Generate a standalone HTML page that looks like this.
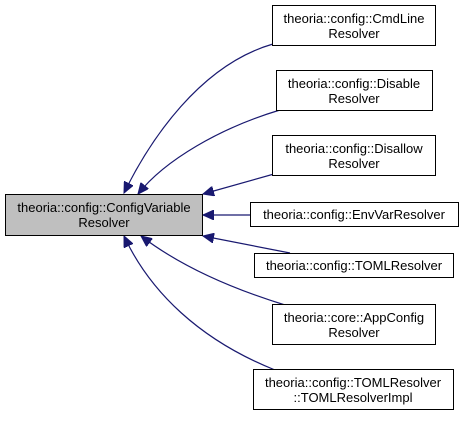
<!DOCTYPE html>
<html><head><style>
body{margin:0;background:#fff;}
svg text{font-family:"Liberation Sans",sans-serif;font-size:13px;fill:#000;}
</style></head><body>
<svg width="463" height="416" viewBox="0 0 463 416" xmlns="http://www.w3.org/2000/svg">
<defs><marker id="a" markerWidth="12" markerHeight="10" refX="11" refY="5" orient="auto" markerUnits="userSpaceOnUse"><path d="M0,0 L11,5 L0,10 Z" fill="#191970" stroke="#191970"/></marker></defs>
<g fill="none" stroke="#191970" stroke-width="1.2">
<path d="M273,44 C200,65 150,140 124,193" marker-end="url(#a)"/>
<path d="M280,110 C220,128 165,160 138,194" marker-end="url(#a)"/>
<path d="M274,174 L203,194" marker-end="url(#a)"/>
<path d="M250,215 L203,215" marker-end="url(#a)"/>
<path d="M290,253 L203,236" marker-end="url(#a)"/>
<path d="M285,305 C220,285 175,262 141,236" marker-end="url(#a)"/>
<path d="M275,370 C200,340 150,292 124,236" marker-end="url(#a)"/>
</g>
<g stroke="#000" stroke-width="1">
<rect x="5.5" y="194.5" width="197" height="41" fill="#bfbfbf"/>
<rect x="272.5" y="5.5" width="163" height="40" fill="#fff"/>
<rect x="276.5" y="70.5" width="156" height="40" fill="#fff"/>
<rect x="272.5" y="135.5" width="163" height="40" fill="#fff"/>
<rect x="250.5" y="202.5" width="208" height="24" fill="#fff"/>
<rect x="254.5" y="253.5" width="199" height="24" fill="#fff"/>
<rect x="272.5" y="304.5" width="163" height="40" fill="#fff"/>
<rect x="253.5" y="369.5" width="200" height="40" fill="#fff"/>
</g>
<g text-anchor="middle">
<text x="104" y="212">theoria::config::ConfigVariable</text><text x="104" y="227">Resolver</text>
<text x="354" y="23">theoria::config::CmdLine</text><text x="354" y="38">Resolver</text>
<text x="354" y="88">theoria::config::Disable</text><text x="354" y="103">Resolver</text>
<text x="354" y="153">theoria::config::Disallow</text><text x="354" y="168">Resolver</text>
<text x="354" y="219">theoria::config::EnvVarResolver</text>
<text x="354" y="270">theoria::config::TOMLResolver</text>
<text x="354" y="322">theoria::core::AppConfig</text><text x="354" y="337">Resolver</text>
<text x="353" y="387">theoria::config::TOMLResolver</text><text x="353" y="402">::TOMLResolverImpl</text>
</g>
</svg>
</body></html>
